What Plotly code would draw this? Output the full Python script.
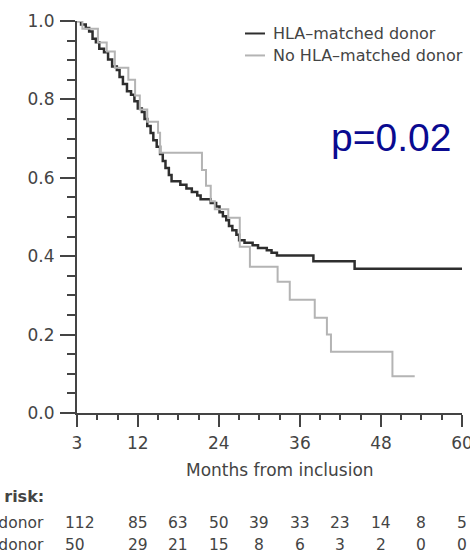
import plotly.graph_objects as go

# Kaplan-Meier step data (months from inclusion, survival probability)
matched_t = [3, 3.6, 4.3, 4.8, 5.3, 5.8, 6.3, 7.0, 7.6, 8.2, 8.9, 9.3, 9.8, 10.4,
             11.0, 11.5, 12.0, 12.6, 13.0, 13.4, 13.9, 14.3, 14.8, 15.3, 15.7,
             16.1, 16.6, 17.0, 18.3, 19.2, 20.0, 20.8, 21.3, 22.8, 23.6, 24.1,
             24.6, 25.1, 25.5, 26.0, 26.6, 27.0, 27.8, 29.0, 29.8, 31.1, 31.8,
             32.6, 38.0, 44.1, 60.0]
matched_s = [1.0, 0.991, 0.982, 0.973, 0.955, 0.946, 0.929, 0.920, 0.902, 0.884,
             0.875, 0.857, 0.839, 0.821, 0.812, 0.795, 0.777, 0.768, 0.750, 0.732,
             0.714, 0.696, 0.679, 0.661, 0.643, 0.625, 0.607, 0.591, 0.582, 0.573,
             0.564, 0.555, 0.545, 0.536, 0.527, 0.512, 0.502, 0.492, 0.477, 0.466,
             0.455, 0.441, 0.434, 0.428, 0.421, 0.415, 0.409, 0.402, 0.387, 0.368,
             0.368]

nomatch_t = [3, 3.8, 6.1, 7.4, 8.6, 10.6, 11.6, 12.3, 13.4, 15.0, 15.3, 21.5, 22.1,
             22.8, 23.4, 25.4, 27.1, 28.6, 32.7, 34.5, 38.2, 40.0, 40.6, 49.7, 53.0]
nomatch_s = [1.0, 0.98, 0.945, 0.922, 0.881, 0.85, 0.81, 0.774, 0.743, 0.715, 0.664,
             0.62, 0.58, 0.54, 0.52, 0.498, 0.424, 0.373, 0.335, 0.289, 0.243, 0.20,
             0.156, 0.094, 0.094]

group_names = ["HLA\u2013matched donor", "No HLA\u2013matched donor"]
x_ticks = [3, 12, 24, 36, 48, 60]
y_ticks = [0.0, 0.2, 0.4, 0.6, 0.8, 1.0]
y_tick_text = ["0.0", "0.2", "0.4", "0.6", "0.8", "1.0"]

# Numbers at risk
risk_times = [3, 12, 18, 24, 30, 36, 42, 48, 54, 60]
risk_matched = [112, 85, 63, 50, 39, 33, 23, 14, 8, 5]
risk_nomatch = [50, 29, 21, 15, 8, 6, 3, 2, 0, 0]

p_text = "p=0.02"

W, H = 470, 555
L, R, T, B = 77, 8, 20.5, 142
PW, PH = W - L - R, H - T - B


def px(x):
    return (x - L) / PW


def py(y):
    return (H - B - y) / PH


BLACK = "#2e2e2e"
GREY = "#b4b4b4"
TXT = "#444444"
FONT = "DejaVu Sans"

fig = go.Figure()
fig.add_trace(go.Scatter(x=matched_t, y=matched_s, mode="lines", line_shape="hv",
                         line=dict(color=BLACK, width=2.5), name=group_names[0],
                         showlegend=False))
fig.add_trace(go.Scatter(x=nomatch_t, y=nomatch_s, mode="lines", line_shape="hv",
                         line=dict(color=GREY, width=2), name=group_names[1],
                         showlegend=False))

annotations = []
shapes = []

# Legend drawn as short line keys with labels
for i, (name, col) in enumerate(zip(group_names, [BLACK, GREY])):
    yy = 33 + 22 * i
    shapes.append(dict(type="line", xref="paper", yref="paper",
                       x0=px(245), x1=px(265), y0=py(yy), y1=py(yy),
                       line=dict(color=col, width=2)))
    annotations.append(dict(text=name, xref="paper", yref="paper", x=px(271), y=py(yy),
                            xanchor="left", yanchor="middle", showarrow=False,
                            font=dict(family=FONT, size=16, color=TXT)))

# Log-rank p-value
annotations.append(dict(text=p_text, xref="paper", yref="paper", x=px(329), y=py(137),
                        xanchor="left", yanchor="middle", showarrow=False,
                        font=dict(family="Liberation Sans, Arial", size=39, color="#0a0a90")))

# Axis title
annotations.append(dict(text="Months from inclusion", xref="paper", yref="paper",
                        x=px(280), y=py(470), xanchor="center", yanchor="middle",
                        showarrow=False, font=dict(family=FONT, size=17, color=TXT)))

# Risk table (row labels run off the left edge of the page)
annotations.append(dict(text="<b>Number at risk:</b>", xref="paper", yref="paper",
                        x=px(46), y=py(497), xanchor="right", yanchor="middle",
                        showarrow=False, font=dict(family=FONT, size=16, color=TXT)))
for row_y, label, counts in [(523, group_names[0], risk_matched),
                             (545, group_names[1], risk_nomatch)]:
    annotations.append(dict(text=label, xref="paper", yref="paper", x=px(46), y=py(row_y),
                            xanchor="right", yanchor="middle", showarrow=False,
                            font=dict(family=FONT, size=15.5, color=TXT)))
    for j, (t, n) in enumerate(zip(risk_times, counts)):
        if j == 0:
            annotations.append(dict(text=str(n), xref="x", yref="paper", x=t, y=py(row_y),
                                    xanchor="left", xshift=-14, yanchor="middle",
                                    showarrow=False,
                                    font=dict(family=FONT, size=15.5, color=TXT)))
        else:
            annotations.append(dict(text=str(n), xref="x", yref="paper", x=t, y=py(row_y),
                                    xanchor="center", yanchor="middle", showarrow=False,
                                    font=dict(family=FONT, size=15.5, color=TXT)))

fig.update_layout(
    width=W, height=H,
    margin=dict(l=L, r=R, t=T, b=B, pad=0, autoexpand=False),
    paper_bgcolor="white", plot_bgcolor="white",
    annotations=annotations, shapes=shapes,
    showlegend=False,
)
fig.update_xaxes(range=[3, 60], tickvals=x_ticks, ticktext=[str(v) for v in x_ticks],
                 showline=True, linecolor=TXT, linewidth=2, ticks="outside",
                 ticklen=12, tickwidth=2, tickcolor=TXT, showgrid=False, zeroline=False,
                 ticklabelstandoff=2, ticklabeloverflow="allow", automargin=False,
                 tickfont=dict(family=FONT, size=17, color=TXT),
                 minor=dict(tick0=3, dtick=3, ticks="outside", ticklen=5, tickwidth=2,
                            tickcolor=TXT, showgrid=False))
fig.update_yaxes(range=[0, 1], tickvals=y_ticks, ticktext=y_tick_text,
                 showline=True, linecolor=TXT, linewidth=2, ticks="outside",
                 ticklen=15, tickwidth=2, tickcolor=TXT, showgrid=False, zeroline=False,
                 ticklabelstandoff=2, automargin=False,
                 tickfont=dict(family=FONT, size=17, color=TXT),
                 minor=dict(tick0=0, dtick=0.05, ticks="outside", ticklen=8, tickwidth=2,
                            tickcolor=TXT, showgrid=False))

fig.write_html("out.html")
